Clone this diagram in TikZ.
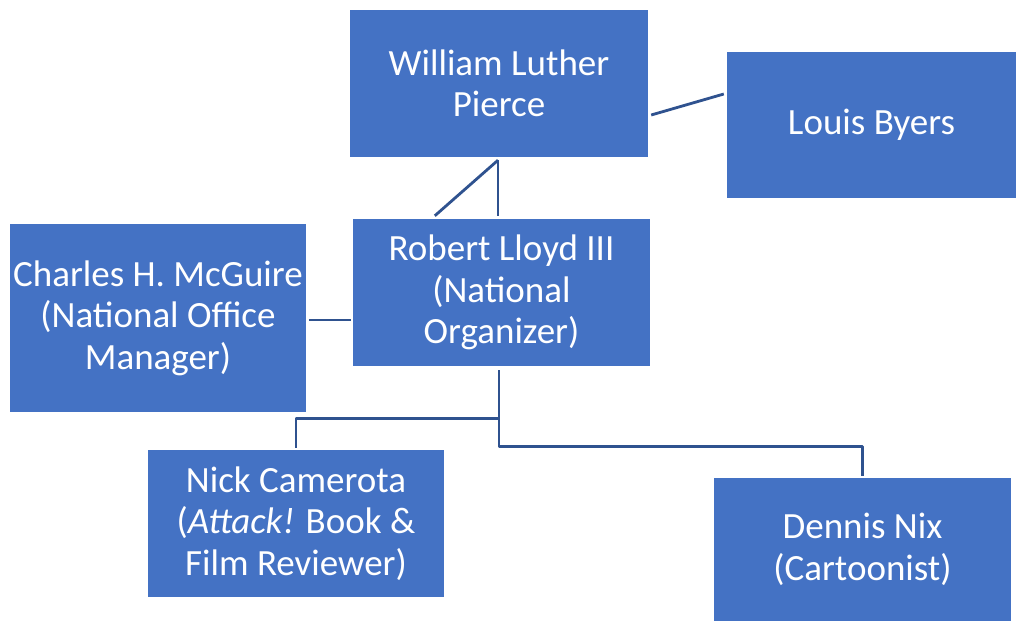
\documentclass[tikz,border=0pt]{standalone}
\usepackage{fontspec}
\setmainfont{Carlito}
\usetikzlibrary{calc}
\definecolor{boxblue}{HTML}{4472C4}
\definecolor{lineblue}{HTML}{2F528F}
\begin{document}
\begin{tikzpicture}[x=1pt, y=-1pt, line join=round,
	person/.style={fill=boxblue, text=white, align=center, inner sep=0pt, font=\fontsize{37}{41.5}\selectfont},
	link/.style={draw=lineblue, line width=2.8pt}]
	\useasboundingbox[fill=white] (0,0) rectangle (1016,622);
	\node[person, minimum width=298pt, minimum height=147pt] (pierce) at (499,83.5) {William Luther\\Pierce};
	\node[person, minimum width=289pt, minimum height=146pt] (byers) at (871.5,125) {Louis Byers};
	\node[person, minimum width=297pt, minimum height=147pt] (lloyd) at (501.5,292.5) {Robert Lloyd III\\(National\\Organizer)};
	\node[person, minimum width=296pt, minimum height=188pt] (mcguire) at (158,318) {Charles H. McGuire\\(National Office\\Manager)};
	\node[person, minimum width=296pt, minimum height=147pt] (nick) at (296,523.5) {Nick Camerota\\(\textit{Attack!} Book \&\\Film Reviewer)};
	\node[person, minimum width=297pt, minimum height=143pt] (nix) at (862.5,549.5) {Dennis Nix\\(Cartoonist)};
	% top of the tree
	\coordinate (p0) at ($(pierce.south)+(-1,3)$);
	\draw[link] (p0) -- ($(lloyd.north)+(-3.5,-3)$);
	\draw[link] (p0) -- ($(lloyd.north west)+(82,-3)$);
	\draw[link] ($(pierce.east)+(3,31.5)$) -- ($(byers.west)+(-3,-31)$);
	\coordinate (m0) at ($(mcguire.east)+(3,2)$);
	\draw[link] (m0) -- ($(m0 -| lloyd.west)+(-2,0)$);
	% bottom of the tree
	\coordinate (l0) at ($(lloyd.south)+(-2.5,4)$);
	\coordinate (l1) at ($(l0)+(0,48)$);
	\draw[link] (l0) -- (l1) -| ($(nick.north)+(0,-2)$);
	\draw[link] (l1) -- ++(0,28) -| ($(nix.north)+(0,-2)$);
\end{tikzpicture}
\end{document}
